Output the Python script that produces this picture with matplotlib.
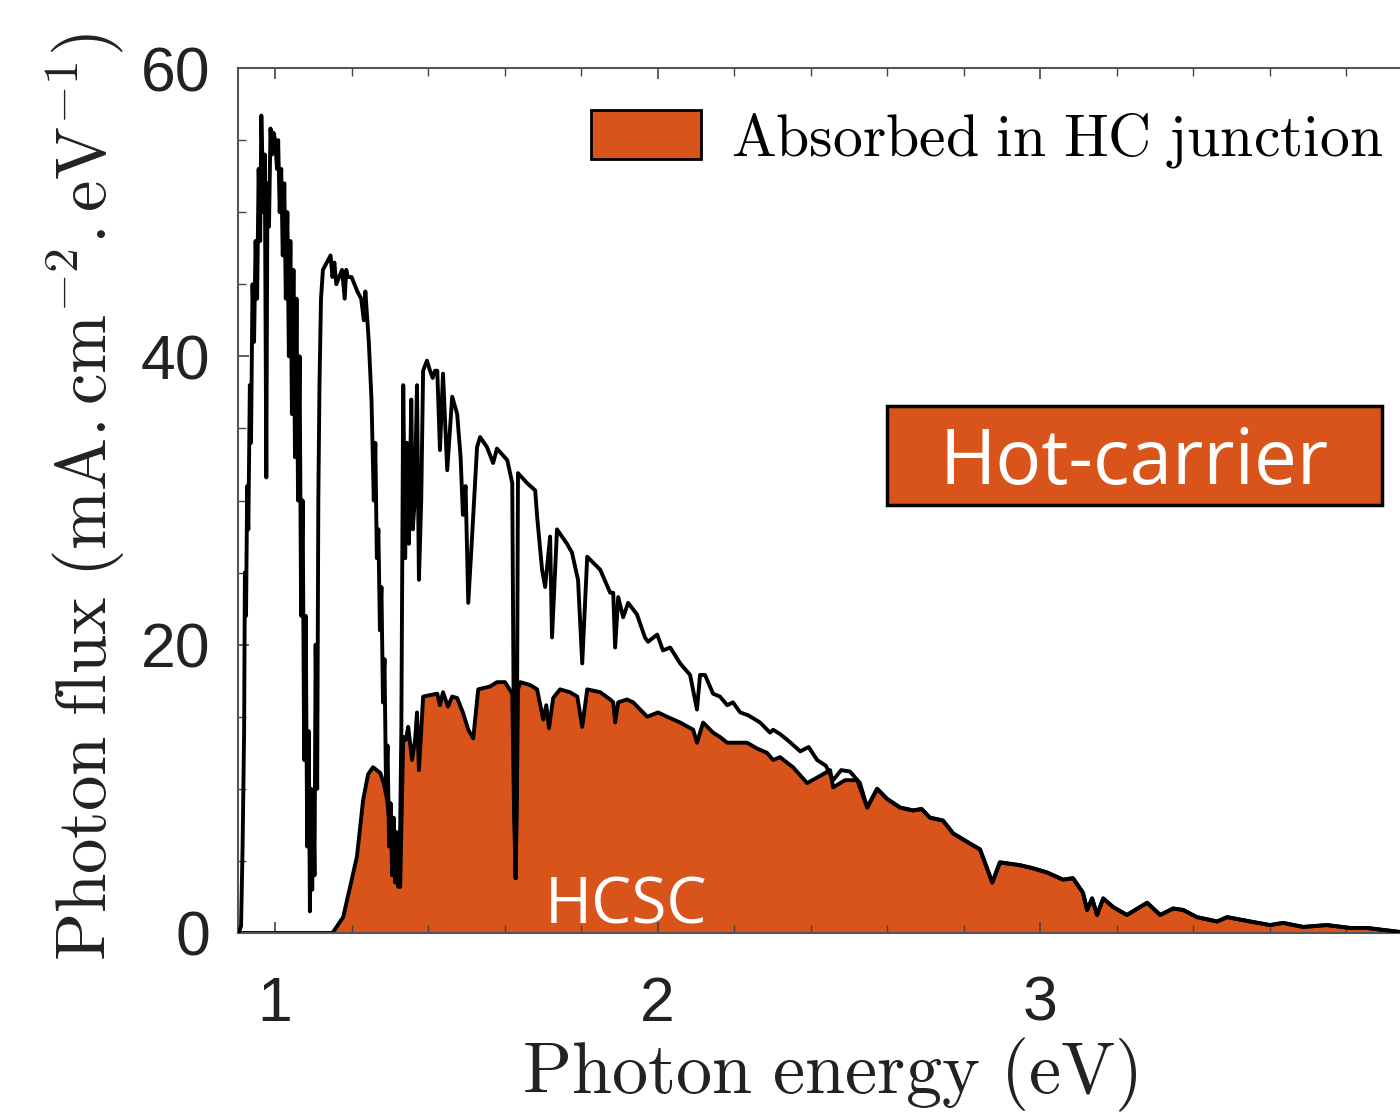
import numpy as np
import matplotlib
matplotlib.use("Agg")
import matplotlib.pyplot as plt
from matplotlib.patches import Patch, Rectangle

# ---- data ----
energy_total = [0.905, 0.911, 0.915, 0.919, 0.921, 0.924, 0.927, 0.930, 0.934, 0.937, 0.941, 0.945,
                0.949, 0.953, 0.957, 0.961, 0.964, 0.970, 0.973, 0.977, 0.980, 0.984, 0.988, 0.992,
                0.996, 1.000, 1.005, 1.008, 1.012, 1.016, 1.020, 1.024, 1.028, 1.032, 1.036, 1.040,
                1.044, 1.048, 1.052, 1.056, 1.060, 1.064, 1.068, 1.072, 1.076, 1.080, 1.084, 1.088,
                1.091, 1.094, 1.097, 1.100, 1.103, 1.106, 1.110, 1.113, 1.116, 1.120, 1.125, 1.135,
                1.145, 1.150, 1.155, 1.160, 1.175, 1.182, 1.186, 1.190, 1.200, 1.215, 1.225, 1.232,
                1.236, 1.245, 1.252, 1.258, 1.262, 1.266, 1.270, 1.274, 1.278, 1.282, 1.286, 1.290,
                1.294, 1.298, 1.302, 1.306, 1.310, 1.314, 1.318, 1.322, 1.326, 1.330, 1.335, 1.340,
                1.345, 1.350, 1.356, 1.360, 1.365, 1.371, 1.376, 1.382, 1.387, 1.397, 1.405, 1.412,
                1.418, 1.424, 1.431, 1.439, 1.450, 1.463, 1.476, 1.485, 1.491, 1.498, 1.505, 1.515,
                1.528, 1.536, 1.554, 1.570, 1.580, 1.607, 1.620, 1.625, 1.629, 1.632, 1.635, 1.659,
                1.680, 1.685, 1.698, 1.706, 1.719, 1.724, 1.737, 1.763, 1.776, 1.792, 1.803, 1.816,
                1.850, 1.876, 1.884, 1.889, 1.897, 1.910, 1.923, 1.946, 1.967, 1.975, 1.999, 2.014,
                2.033, 2.059, 2.085, 2.103, 2.111, 2.124, 2.145, 2.163, 2.182, 2.197, 2.216, 2.237,
                2.268, 2.294, 2.302, 2.320, 2.339, 2.373, 2.395, 2.417, 2.440, 2.459, 2.480, 2.503,
                2.529, 2.548, 2.574, 2.600, 2.634, 2.668, 2.690, 2.712, 2.746, 2.773, 2.817, 2.843,
                2.875, 2.895, 2.948, 2.980, 3.018, 3.060, 3.086, 3.112, 3.123, 3.136, 3.149, 3.165,
                3.191, 3.227, 3.280, 3.314, 3.348, 3.374, 3.410, 3.463, 3.489, 3.549, 3.601, 3.635,
                3.688, 3.750, 3.810, 3.855, 3.941]
flux_total = [0.0, 0.5, 6.0, 14.0, 25.0, 22.0, 31.0, 28.0, 38.0, 34.0, 45.0, 41.0,
              48.0, 44.0, 53.0, 48.0, 56.7, 50.0, 54.0, 31.6, 52.0, 49.0, 55.8, 54.0,
              55.5, 55.0, 53.0, 55.0, 50.0, 53.0, 47.0, 52.0, 44.0, 50.0, 40.0, 48.0,
              36.0, 46.0, 33.0, 44.0, 30.0, 40.0, 22.0, 30.0, 12.0, 22.0, 6.0, 14.0,
              1.5, 10.0, 3.0, 9.0, 4.0, 20.0, 10.0, 30.0, 38.0, 44.0, 46.0, 46.5,
              47.0, 45.5, 46.5, 45.0, 46.0, 44.0, 46.0, 45.5, 45.5, 44.5, 44.0, 42.5,
              44.5, 41.0, 37.0, 30.0, 34.0, 26.0, 28.0, 21.0, 24.0, 16.0, 19.0, 10.0,
              13.0, 6.0, 9.0, 4.0, 8.0, 3.5, 7.0, 3.2, 5.0, 14.0, 38.0, 26.0,
              34.0, 27.0, 37.0, 28.0, 30.0, 38.0, 24.5, 30.0, 39.0, 39.7, 39.0, 38.5,
              39.0, 39.0, 33.5, 38.8, 32.1, 37.2, 36.0, 33.0, 29.0, 31.0, 22.9, 27.5,
              33.7, 34.4, 33.7, 32.6, 33.6, 32.8, 31.2, 10.0, 3.8, 12.0, 31.9, 31.2,
              30.7, 28.9, 25.2, 24.0, 27.5, 20.5, 28.0, 27.0, 26.4, 24.5, 18.7, 26.1,
              25.2, 23.6, 23.6, 19.8, 23.3, 21.9, 22.9, 22.1, 20.5, 20.2, 20.7, 19.6,
              19.8, 18.7, 17.9, 15.5, 17.9, 17.9, 16.6, 16.4, 15.8, 16.0, 15.3, 15.1,
              14.6, 13.9, 14.1, 13.8, 13.4, 12.6, 12.9, 12.0, 11.6, 10.6, 11.3, 11.2,
              10.4, 8.7, 10.0, 9.3, 8.7, 8.5, 8.6, 8.0, 7.8, 6.9, 6.2, 5.8,
              3.5, 4.9, 4.7, 4.5, 4.2, 3.7, 3.8, 2.8, 1.6, 2.4, 1.25, 2.4,
              1.8, 1.25, 2.1, 1.25, 1.7, 1.6, 1.1, 0.8, 1.1, 0.8, 0.55, 0.7,
              0.42, 0.55, 0.35, 0.35, 0.07]

energy_abs = [0.905, 1.150, 1.178, 1.214, 1.230, 1.243, 1.256, 1.275, 1.285, 1.293, 1.306, 1.314,
              1.322, 1.327, 1.329, 1.335, 1.342, 1.348, 1.358, 1.366, 1.371, 1.376, 1.382, 1.387,
              1.405, 1.424, 1.431, 1.439, 1.452, 1.463, 1.476, 1.491, 1.505, 1.518, 1.531, 1.562,
              1.580, 1.601, 1.620, 1.625, 1.629, 1.632, 1.635, 1.641, 1.667, 1.685, 1.701, 1.709,
              1.716, 1.727, 1.745, 1.771, 1.790, 1.803, 1.816, 1.850, 1.876, 1.884, 1.889, 1.897,
              1.920, 1.936, 1.973, 2.001, 2.025, 2.059, 2.093, 2.103, 2.119, 2.145, 2.163, 2.182,
              2.197, 2.234, 2.260, 2.286, 2.302, 2.320, 2.354, 2.391, 2.425, 2.451, 2.459, 2.490,
              2.522, 2.548]
flux_abs = [0.0, 0.0, 1.1, 5.3, 9.2, 11.0, 11.5, 11.1, 10.3, 9.2, 6.2, 6.4,
            5.0, 3.2, 5.8, 13.6, 13.4, 14.3, 12.0, 13.4, 15.3, 11.3, 14.0, 16.4,
            16.5, 16.6, 15.8, 16.7, 15.7, 16.4, 16.3, 15.3, 14.1, 13.5, 16.9, 17.1,
            17.4, 17.4, 16.6, 8.0, 3.8, 9.0, 16.9, 17.4, 17.2, 16.9, 14.8, 15.8,
            14.2, 16.3, 16.9, 16.7, 16.4, 14.3, 16.9, 16.7, 16.2, 16.0, 14.6, 16.0,
            16.2, 16.0, 15.0, 15.3, 15.0, 14.6, 14.1, 13.2, 14.6, 13.9, 13.6, 13.2,
            13.2, 13.2, 12.8, 12.5, 12.0, 12.2, 11.5, 10.4, 10.9, 11.3, 10.1, 10.6,
            10.6, 8.7]

y_ticks = [0, 20, 40, 60]
x_ticks = [1, 2, 3]
legend_label = r'$\mathrm{Absorbed\ in\ HC\ junction}$'
box_label = 'Hot-carrier'
inner_label = 'HCSC'

ORANGE = '#D9541A'

# absorbed curve coincides with the total spectrum above ~2.56 eV
e_t = np.array(energy_total)
f_t = np.array(flux_total)
tail = e_t > 2.56
e_a = np.concatenate([np.array(energy_abs), e_t[tail]])
f_a = np.concatenate([np.array(flux_abs), f_t[tail]])

plt.rcParams['mathtext.fontset'] = 'cm'

fig = plt.figure(figsize=(14, 11.15), dpi=100)
ax = fig.add_axes([238 / 1400, 182 / 1115, 1162 / 1400, 865 / 1115])

ax.fill_between(e_a, 0, f_a, color=ORANGE, lw=0, zorder=1)
ax.plot(e_a, f_a, color='black', lw=2.8, zorder=2)
ax.plot(e_t, f_t, color='black', lw=2.8, zorder=3)

ax.set_xlim(0.903, 3.941)
ax.set_ylim(0, 60)

ax.set_yticks(y_ticks)
ax.set_yticks(np.arange(0, 61, 5), minor=True)
ax.set_xticks(x_ticks)
ax.set_xticks(np.arange(1.0, 3.95, 0.2), minor=True)
ax.tick_params(which='both', direction='in', top=True, right=False, color='#444444')
ax.tick_params(which='major', length=8, width=1.2)
ax.tick_params(which='minor', length=6, width=1.0)
ax.tick_params(axis='y', which='major', labelsize=45, pad=20)
ax.tick_params(axis='x', which='major', labelsize=45, pad=30)
for lab in ax.get_xticklabels() + ax.get_yticklabels():
    lab.set_fontfamily('Liberation Sans')
    lab.set_color('#222222')

for s in ['left', 'top', 'bottom']:
    ax.spines[s].set_color('#555555')
    ax.spines[s].set_linewidth(1.5)
ax.spines['right'].set_visible(False)

fig.text(85 / 1400, 1 - 497 / 1115, r'$\mathrm{Photon\ flux\ (mA{.}cm^{-2}{.}eV^{-1})}$',
         rotation=90, ha='center', va='center', fontsize=51, color='#222222')
fig.text(830 / 1400, 1 - 1075 / 1115, r'$\mathrm{Photon\ energy\ (eV)}$',
         ha='center', va='center', fontsize=52, color='#222222')

handle = Patch(facecolor=ORANGE, edgecolor='black', linewidth=2)
leg = ax.legend([handle], [legend_label], loc='upper right', bbox_to_anchor=(1.006, 0.98),
                frameon=False, fontsize=43, handlelength=1.85, handleheight=0.9,
                handletextpad=0.5, borderaxespad=0.0)

# Hot-carrier box
x0 = (887 - 238) / 1162
x1 = (1382 - 238) / 1162
y0 = (933 - 505) / 865
y1 = (933 - 406) / 865
ax.add_patch(Rectangle((x0, y0), x1 - x0, y1 - y0, transform=ax.transAxes,
                       facecolor=ORANGE, edgecolor='black', linewidth=2.5, zorder=5))
ax.text((x0 + x1) / 2, (y0 + y1) / 2 - 0.009, box_label, transform=ax.transAxes,
        ha='center', va='center', color='white', fontsize=55, family='Open Sans', zorder=6)

ax.text((626 - 238) / 1162, (933 - 906) / 865, inner_label, transform=ax.transAxes,
        ha='center', va='center', color='white', fontsize=46, family='Open Sans', zorder=6)

fig.savefig('out.png', dpi=100)
